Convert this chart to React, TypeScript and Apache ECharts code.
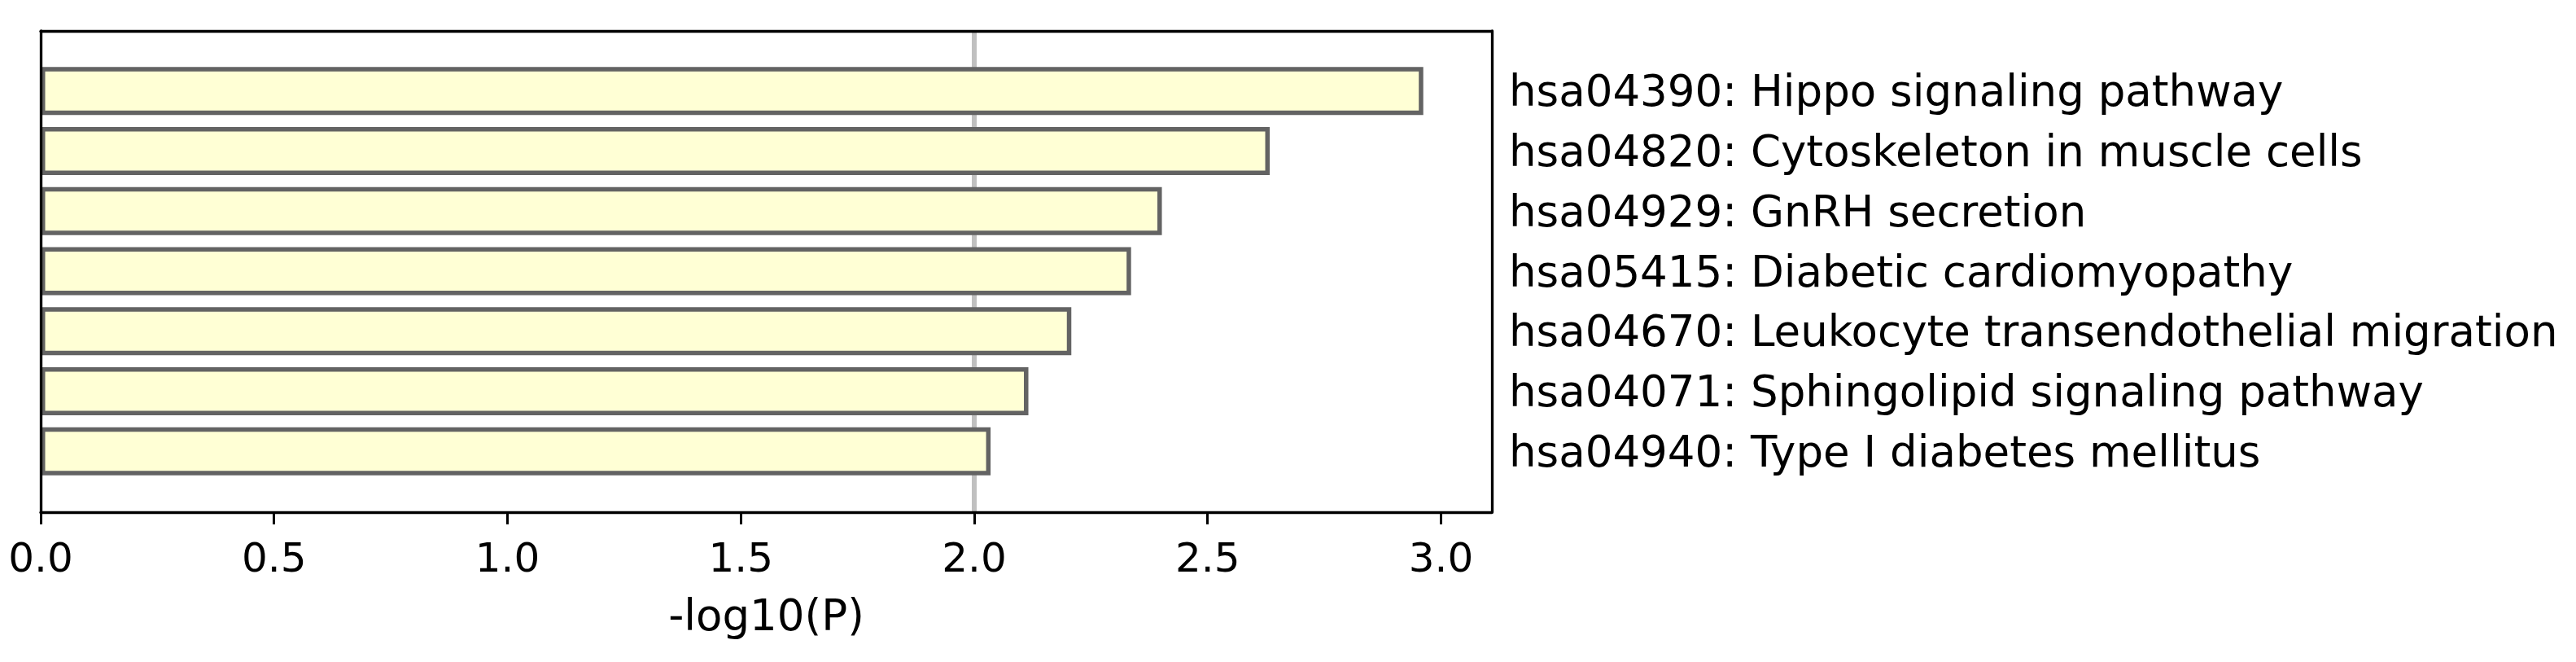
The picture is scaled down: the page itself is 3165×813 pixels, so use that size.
import React, { useEffect, useRef } from "react";
import * as echarts from "echarts";

const categories = [
  "hsa04390: Hippo signaling pathway",
  "hsa04820: Cytoskeleton in muscle cells",
  "hsa04929: GnRH secretion",
  "hsa05415: Diabetic cardiomyopathy",
  "hsa04670: Leukocyte transendothelial migration",
  "hsa04071: Sphingolipid signaling pathway",
  "hsa04940: Type I diabetes mellitus",
];
const values = [2.962, 2.633, 2.402, 2.336, 2.208, 2.116, 2.035];
const xTicks = [0, 0.5, 1.0, 1.5, 2.0, 2.5, 3.0];
const xMax = 3.109;
const thresholdX = 2.0;
const xAxisName = "-log10(P)";

const FONT = "DejaVu Sans";

export default function App() {
  const ref = useRef<HTMLDivElement>(null);
  useEffect(() => {
    if (!ref.current) return;
    const chart = echarts.init(ref.current, null, { renderer: "svg" });
    const frameLeft = 50;
    const frameTop = 38;
    const frameW = 1783;
    const frameH = 591;
    const band = 73.75;
    const barTop = frameTop + band * 0.5;
    const barH = band * categories.length;
    chart.setOption({
      animation: false,
      backgroundColor: "#ffffff",
      grid: [
        { left: frameLeft, top: frameTop, width: frameW, height: frameH, containLabel: false },
        { left: frameLeft, top: barTop, width: frameW, height: barH, containLabel: false },
      ],
      xAxis: [
        {
          type: "value",
          gridIndex: 0,
          min: 0,
          max: xMax,
          position: "bottom",
          z: 10,
          axisLine: { show: true, onZero: false, lineStyle: { color: "#000", width: 3.3 } },
          axisTick: { show: true, length: 15, customValues: xTicks, lineStyle: { color: "#000", width: 3 } },
          axisLabel: {
            show: true,
            customValues: xTicks,
            formatter: (v: number) => v.toFixed(1),
            fontFamily: FONT,
            fontSize: 50,
            color: "#000",
            margin: 31,
          },
          splitLine: { show: false },
          name: xAxisName,
          nameLocation: "middle",
          nameGap: 100,
          nameTextStyle: { fontFamily: FONT, fontSize: 53, color: "#000" },
        },
        {
          type: "value",
          gridIndex: 0,
          min: 0,
          max: xMax,
          position: "top",
          z: 10,
          axisLine: { show: true, onZero: false, lineStyle: { color: "#000", width: 3.3 } },
          axisTick: { show: false },
          axisLabel: { show: false },
          splitLine: { show: false },
        },
        {
          type: "value",
          gridIndex: 1,
          min: 0,
          max: xMax,
          show: false,
          splitLine: { show: false },
        },
      ],
      yAxis: [
        {
          type: "value",
          gridIndex: 0,
          min: 0,
          max: 1,
          position: "left",
          z: 10,
          axisLine: { show: true, onZero: false, lineStyle: { color: "#000", width: 3.3 } },
          axisTick: { show: false },
          axisLabel: { show: false },
          splitLine: { show: false },
        },
        {
          type: "value",
          gridIndex: 0,
          min: 0,
          max: 1,
          position: "right",
          z: 10,
          axisLine: { show: true, onZero: false, lineStyle: { color: "#000", width: 3.3 } },
          axisTick: { show: false },
          axisLabel: { show: false },
          splitLine: { show: false },
        },
        {
          type: "category",
          gridIndex: 1,
          data: categories,
          inverse: true,
          position: "right",
          axisLine: { show: false },
          axisTick: { show: false },
          axisLabel: {
            show: true,
            fontFamily: FONT,
            fontSize: 53,
            color: "#000",
            margin: 21,
            align: "left",
            interval: 0,
            padding: [4, 0, 0, 0],
          },
          splitLine: { show: false },
        },
      ],
      series: [
        {
          type: "line",
          xAxisIndex: 0,
          yAxisIndex: 0,
          data: [
            [thresholdX, 0],
            [thresholdX, 1],
          ],
          symbol: "none",
          z: 1,
          lineStyle: { color: "#c0c0c0", width: 6 },
          silent: true,
        },
        {
          type: "bar",
          xAxisIndex: 2,
          yAxisIndex: 2,
          data: values,
          barWidth: 59,
          z: 2,
          itemStyle: { color: "#ffffd5", borderColor: "#636363", borderWidth: 5.5 },
        },
      ],
    });
    return () => chart.dispose();
  }, []);
  return (
    <div
      ref={ref}
      style={{ position: "absolute", left: 0, top: 0, width: 3165, height: 813 }}
    />
  );
}
